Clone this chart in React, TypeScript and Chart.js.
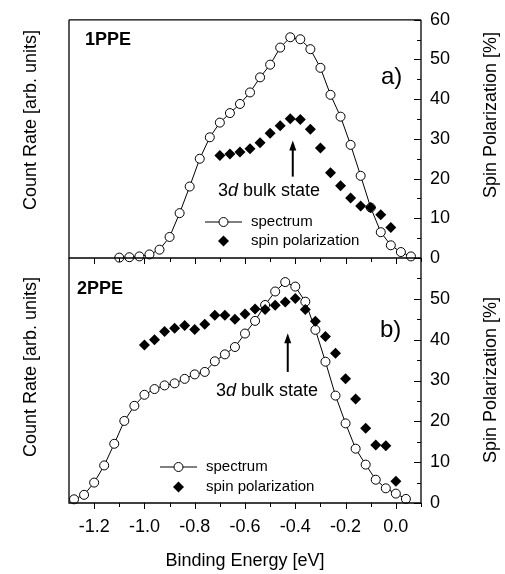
import React, { useEffect, useRef } from "react";
import { Chart, registerables } from "chart.js";

Chart.register(...registerables);

// ---------- data ----------
const topSpecE = [-1.10, -1.06, -1.02, -0.98, -0.94, -0.90, -0.86, -0.82, -0.78, -0.74, -0.70, -0.66, -0.62, -0.58, -0.54, -0.50, -0.46, -0.42, -0.38, -0.34, -0.30, -0.26, -0.22, -0.18, -0.14, -0.10, -0.06, -0.02, 0.02, 0.06];
const topSpecV = [0.1, 0.2, 0.4, 0.9, 2.1, 5.3, 11.3, 18.0, 25.0, 30.4, 34.1, 36.5, 38.8, 41.7, 45.5, 48.7, 53.0, 55.6, 55.1, 52.6, 47.9, 41.1, 35.6, 28.5, 20.7, 12.7, 6.5, 3.2, 1.5, 0.4];

const topSpinE = [-0.70, -0.66, -0.62, -0.58, -0.54, -0.50, -0.46, -0.42, -0.38, -0.34, -0.30, -0.26, -0.22, -0.18, -0.14, -0.10, -0.06, -0.02];
const topSpinV = [25.8, 26.2, 26.7, 27.5, 29.0, 31.4, 33.3, 35.1, 34.9, 32.4, 27.7, 21.5, 18.2, 15.1, 13.1, 12.7, 10.9, 7.7];

const botSpecE = [-1.28, -1.24, -1.20, -1.16, -1.12, -1.08, -1.04, -1.00, -0.96, -0.92, -0.88, -0.84, -0.80, -0.76, -0.72, -0.68, -0.64, -0.60, -0.56, -0.52, -0.48, -0.44, -0.40, -0.36, -0.32, -0.28, -0.24, -0.20, -0.16, -0.12, -0.08, -0.04, 0.00, 0.04];
const botSpecV = [0.9, 2.0, 5.0, 9.2, 14.5, 20.1, 23.8, 26.5, 27.9, 28.8, 29.3, 30.4, 31.5, 32.1, 34.7, 36.4, 38.2, 41.5, 44.6, 48.5, 51.8, 54.1, 53.0, 49.3, 42.4, 34.6, 26.3, 19.5, 13.3, 9.4, 5.7, 3.6, 2.3, 1.0];

const botSpinE = [-1.00, -0.96, -0.92, -0.88, -0.84, -0.80, -0.76, -0.72, -0.68, -0.64, -0.60, -0.56, -0.52, -0.48, -0.44, -0.40, -0.36, -0.32, -0.28, -0.24, -0.20, -0.16, -0.12, -0.08, -0.04, 0.00];
const botSpinV = [38.7, 40.0, 42.0, 42.8, 43.5, 42.5, 43.8, 46.0, 46.0, 45.0, 46.3, 47.5, 47.4, 48.4, 49.2, 50.1, 47.4, 44.5, 40.8, 36.7, 30.4, 25.5, 18.3, 14.2, 14.0, 5.3];

const xTickValues = [-1.2, -1.0, -0.8, -0.6, -0.4, -0.2, 0.0];
const xTickLabels = ["-1.2", "-1.0", "-0.8", "-0.6", "-0.4", "-0.2", "0.0"];
const xMinorValues = [-1.1, -0.9, -0.7, -0.5, -0.3, -0.1, 0.1];
const yTopTickValues = [0, 10, 20, 30, 40, 50, 60];
const yBotTickValues = [0, 10, 20, 30, 40, 50];
const yMinorValues = [5, 15, 25, 35, 45, 55];

const panelLabels = { top: "1PPE", bottom: "2PPE" };
const panelLetters = { top: "a)", bottom: "b)" };
const arrowEnergy = { top: -0.41, bottom: -0.43 };
const arrowFromTo = { top: [20.5, 29.6], bottom: [32.1, 41.6] };
const legendLabels = ["spectrum", "spin polarization"];
const xTitle = "Binding Energy [eV]";
const leftTitle = "Count Rate [arb. units]";
const rightTitle = "Spin Polarization [%]";

// ---------- layout ----------
const W = 505;
const H = 574;
const FONT = "'Liberation Sans', Arial, Helvetica, sans-serif";
const PLOT_LEFT = 69;
const PLOT_RIGHT = 421;
const PANEL = {
  top: { top: 15, bottom: 258 },
  bottom: { top: 258, bottom: 503 },
};

type PanelKey = "top" | "bottom";

function drawDiamond(ctx: CanvasRenderingContext2D, x: number, y: number, r: number) {
  ctx.beginPath();
  ctx.moveTo(x - r, y);
  ctx.lineTo(x, y - r);
  ctx.lineTo(x + r, y);
  ctx.lineTo(x, y + r);
  ctx.closePath();
  ctx.fillStyle = "#000";
  ctx.fill();
}

const decorPlugin = {
  id: "decor",
  afterDraw(chart: any, _args: any, opts: any) {
    const panel: PanelKey = opts.panel;
    const isTop = panel === "top";
    const { ctx, chartArea: ca, scales } = chart;
    const xs = scales.x;
    const yr = scales.yR;
    ctx.save();
    ctx.strokeStyle = "#000";
    ctx.fillStyle = "#000";

    // frame
    ctx.lineWidth = 1.3;
    ctx.beginPath();
    if (isTop) {
      ctx.moveTo(ca.left, ca.top);
      ctx.lineTo(ca.right, ca.top);
    }
    ctx.moveTo(ca.left, ca.top);
    ctx.lineTo(ca.left, ca.bottom);
    ctx.lineTo(ca.right, ca.bottom);
    ctx.moveTo(ca.right, ca.top);
    ctx.lineTo(ca.right, ca.bottom);
    ctx.stroke();

    // x ticks (pointing down)
    ctx.lineWidth = 1;
    ctx.beginPath();
    for (const v of xTickValues) {
      const px = Math.round(xs.getPixelForValue(v)) + 0.5;
      ctx.moveTo(px, ca.bottom);
      ctx.lineTo(px, ca.bottom + 6);
    }
    for (const v of xMinorValues) {
      const px = Math.round(xs.getPixelForValue(v)) + 0.5;
      ctx.moveTo(px, ca.bottom);
      ctx.lineTo(px, ca.bottom + 4);
    }
    // right ticks (pointing inward)
    const majors = isTop ? yTopTickValues : [...yBotTickValues, 60];
    for (const v of majors) {
      const py = Math.round(yr.getPixelForValue(v)) + 0.5;
      ctx.moveTo(ca.right, py);
      ctx.lineTo(ca.right - 7, py);
    }
    for (const v of yMinorValues) {
      const py = Math.round(yr.getPixelForValue(v)) + 0.5;
      ctx.moveTo(ca.right, py);
      ctx.lineTo(ca.right - 4, py);
    }
    ctx.stroke();

    // panel label
    ctx.textBaseline = "middle";
    ctx.textAlign = "left";
    ctx.font = `bold 18px ${FONT}`;
    ctx.fillText(panelLabels[panel], isTop ? 85 : 77, isTop ? 40 : 289);
    // letter
    ctx.font = `24px ${FONT}`;
    ctx.fillText(panelLetters[panel], isTop ? 381 : 380, isTop ? 77 : 330);

    // arrow
    const ax = xs.getPixelForValue(arrowEnergy[panel]);
    const [fromV, toV] = arrowFromTo[panel];
    const y0 = yr.getPixelForValue(fromV);
    const y1 = yr.getPixelForValue(toV);
    ctx.lineWidth = 2;
    ctx.beginPath();
    ctx.moveTo(ax, y0);
    ctx.lineTo(ax, y1 + 8);
    ctx.stroke();
    ctx.beginPath();
    ctx.moveTo(ax, y1);
    ctx.lineTo(ax - 3.5, y1 + 10);
    ctx.lineTo(ax + 3.5, y1 + 10);
    ctx.closePath();
    ctx.fill();

    // "3d bulk state"
    const ty = isTop ? 191 : 391;
    let tx = isTop ? 218 : 216;
    ctx.font = `18px ${FONT}`;
    ctx.fillText("3", tx, ty);
    tx += ctx.measureText("3").width;
    ctx.font = `italic 18px ${FONT}`;
    ctx.fillText("d", tx, ty);
    tx += ctx.measureText("d").width;
    ctx.font = `18px ${FONT}`;
    ctx.fillText(" bulk state", tx, ty);

    // legend
    const lx0 = isTop ? 205 : 160;
    const lx1 = isTop ? 242 : 197;
    const ly0 = isTop ? 222 : 467;
    const ly1 = isTop ? 241 : 487;
    const lcx = (lx0 + lx1) / 2;
    const ltx = isTop ? 251 : 206;
    ctx.lineWidth = 1;
    ctx.beginPath();
    ctx.moveTo(lx0, ly0);
    ctx.lineTo(lx1, ly0);
    ctx.stroke();
    ctx.beginPath();
    ctx.arc(lcx, ly0, 4.5, 0, Math.PI * 2);
    ctx.fillStyle = "#fff";
    ctx.fill();
    ctx.stroke();
    drawDiamond(ctx, lcx, ly1, 5.5);
    ctx.fillStyle = "#000";
    ctx.font = `15px ${FONT}`;
    ctx.fillText(legendLabels[0], ltx, ly0);
    ctx.fillText(legendLabels[1], ltx, ly1);

    // axis titles
    ctx.font = `18px ${FONT}`;
    ctx.textAlign = "center";
    ctx.save();
    ctx.translate(31, isTop ? 120 : 367);
    ctx.rotate(-Math.PI / 2);
    ctx.fillText(leftTitle, 0, 0);
    ctx.restore();
    ctx.save();
    ctx.translate(491, isTop ? 115 : 380);
    ctx.rotate(-Math.PI / 2);
    ctx.fillText(rightTitle, 0, 0);
    ctx.restore();
    if (!isTop) {
      ctx.fillText(xTitle, (ca.left + ca.right) / 2, 561);
    }
    ctx.restore();
  },
};

function makeChart(canvas: HTMLCanvasElement, panel: PanelKey) {
  const isTop = panel === "top";
  const specE = isTop ? topSpecE : botSpecE;
  const specV = isTop ? topSpecV : botSpecV;
  const spinE = isTop ? topSpinE : botSpinE;
  const spinV = isTop ? topSpinV : botSpinV;
  const rightTicks = isTop ? yTopTickValues : yBotTickValues;
  const p = PANEL[panel];

  return new Chart(canvas, {
    type: "scatter",
    data: {
      datasets: [
        {
          label: legendLabels[1],
          data: spinE.map((x, i) => ({ x, y: spinV[i] })),
          yAxisID: "yR",
          showLine: false,
          pointStyle: "rectRot",
          pointRadius: 5.5,
          pointBackgroundColor: "#000",
          pointBorderColor: "#000",
          pointBorderWidth: 0,
          clip: false,
          order: 0,
        },
        {
          label: legendLabels[0],
          data: specE.map((x, i) => ({ x, y: specV[i] })),
          yAxisID: "yL",
          showLine: true,
          borderColor: "#000",
          borderWidth: 1,
          tension: 0,
          pointStyle: "circle",
          pointRadius: 4.5,
          pointBackgroundColor: "#fff",
          pointBorderColor: "#000",
          pointBorderWidth: 1,
          clip: false,
          order: 1,
        },
      ],
    } as any,
    options: {
      animation: false,
      responsive: false,
      devicePixelRatio: 1,
      events: [],
      layout: {
        padding: { top: p.top, bottom: isTop ? H - p.bottom : 0, left: 0, right: 0 },
      },
      plugins: {
        legend: { display: false },
        tooltip: { enabled: false },
        decor: { panel },
      } as any,
      scales: {
        x: {
          type: "linear",
          min: -1.3,
          max: 0.1,
          grid: { display: false, drawTicks: false },
          border: { display: false },
          ticks: {
            display: !isTop,
            autoSkip: false,
            maxRotation: 0,
            padding: 13,
            color: "#000",
            font: { family: FONT, size: 18 },
            callback: (_v: any, i: number) => xTickLabels[i],
          },
          afterBuildTicks: (s: any) => {
            s.ticks = xTickValues.map((v) => ({ value: v }));
          },
          afterFit: (s: any) => {
            s.height = isTop ? 0 : H - p.bottom;
          },
        },
        yL: {
          type: "linear",
          position: "left",
          min: 0,
          max: 60,
          grid: { display: false, drawTicks: false },
          border: { display: false },
          ticks: { display: false },
          afterFit: (s: any) => {
            s.width = PLOT_LEFT;
          },
        },
        yR: {
          type: "linear",
          position: "right",
          min: 0,
          max: 60,
          grid: { display: false, drawTicks: false },
          border: { display: false },
          ticks: {
            padding: 9,
            color: "#000",
            font: { family: FONT, size: 18 },
            callback: (v: any) => String(v),
          },
          afterBuildTicks: (s: any) => {
            s.ticks = rightTicks.map((v) => ({ value: v }));
          },
          afterFit: (s: any) => {
            s.width = W - PLOT_RIGHT;
          },
        },
      } as any,
    },
    plugins: [decorPlugin],
  } as any);
}

export default function App() {
  const topRef = useRef<HTMLCanvasElement>(null);
  const botRef = useRef<HTMLCanvasElement>(null);

  useEffect(() => {
    const c1 = makeChart(topRef.current!, "top");
    const c2 = makeChart(botRef.current!, "bottom");
    return () => {
      c1.destroy();
      c2.destroy();
    };
  }, []);

  const cs: React.CSSProperties = { position: "absolute", left: 0, top: 0, width: W, height: H };
  return (
    <div style={{ position: "absolute", left: 0, top: 0, width: W, height: H, background: "#fff" }}>
      <canvas ref={botRef} width={W} height={H} style={cs} />
      <canvas ref={topRef} width={W} height={H} style={cs} />
    </div>
  );
}
